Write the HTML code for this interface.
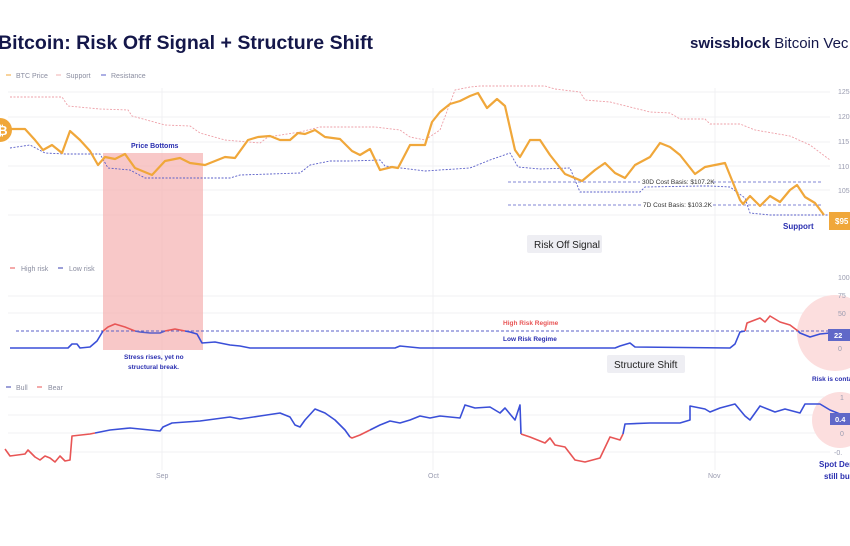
<!DOCTYPE html>
<html><head><meta charset="utf-8"><style>
body{margin:0;background:#fff;width:850px;height:541px;overflow:hidden;font-family:"Liberation Sans",sans-serif}
</style></head><body>
<svg width="850" height="541" viewBox="0 0 850 541" xmlns="http://www.w3.org/2000/svg" font-family="Liberation Sans, sans-serif">
<rect width="850" height="541" fill="#fff"/>
<text x="-2" y="49" font-size="19" font-weight="bold" fill="#14174a" textLength="375" lengthAdjust="spacingAndGlyphs">Bitcoin: Risk Off Signal + Structure Shift</text>
<text x="690" y="48" font-size="15" fill="#14174a"><tspan font-weight="bold">swissblock</tspan> Bitcoin Vec</text>
<!-- grids -->
<g stroke="#f0f0f3" stroke-width="1">
<line x1="162" y1="88" x2="162" y2="470"/><line x1="433" y1="88" x2="433" y2="470"/><line x1="715" y1="88" x2="715" y2="470"/>
<line x1="8" y1="92" x2="830" y2="92"/><line x1="8" y1="117" x2="830" y2="117"/><line x1="8" y1="142" x2="830" y2="142"/><line x1="8" y1="166" x2="830" y2="166"/><line x1="8" y1="190" x2="830" y2="190"/><line x1="8" y1="215" x2="830" y2="215"/>
<line x1="8" y1="296" x2="830" y2="296"/><line x1="8" y1="313" x2="830" y2="313"/>
<line x1="8" y1="397" x2="830" y2="397"/><line x1="8" y1="415" x2="830" y2="415"/><line x1="8" y1="433" x2="830" y2="433"/><line x1="8" y1="452" x2="830" y2="452"/>
</g>
<!-- legends -->
<g font-size="7" fill="#8a8da0">
<line x1="6" y1="75" x2="11" y2="75" stroke="#f0a73a"/><text x="16" y="78">BTC Price</text>
<line x1="56" y1="75" x2="61" y2="75" stroke="#f2b0b0"/><text x="66" y="78">Support</text>
<line x1="101" y1="75" x2="106" y2="75" stroke="#5a5fc8"/><text x="111" y="78">Resistance</text>
<line x1="10" y1="268" x2="15" y2="268" stroke="#e85555"/><text x="21" y="271">High risk</text>
<line x1="58" y1="268" x2="63" y2="268" stroke="#3a3fb0"/><text x="69" y="271">Low risk</text>
<line x1="6" y1="387" x2="11" y2="387" stroke="#3a3fb0"/><text x="16" y="390">Bull</text>
<line x1="37" y1="387" x2="42" y2="387" stroke="#e85555"/><text x="48" y="390">Bear</text>
</g>
<!-- shaded -->
<rect x="103" y="153" width="100" height="197" fill="#f5b5b5" opacity="0.75"/>
<!-- cost basis lines -->
<line x1="508" y1="182" x2="823" y2="182" stroke="#5a5fc8" stroke-dasharray="3,2" stroke-width="0.8"/>
<line x1="508" y1="205" x2="823" y2="205" stroke="#5a5fc8" stroke-dasharray="3,2" stroke-width="0.8"/>
<rect x="640" y="177" width="72" height="9" fill="#fff"/><text x="642" y="184" font-size="6.5" fill="#333">30D Cost Basis: $107.2K</text>
<rect x="642" y="200" width="70" height="9" fill="#fff"/><text x="643" y="207" font-size="6.5" fill="#333">7D Cost Basis: $103.2K</text>
<!-- support -->
<polyline fill="none" stroke="#eea0a8" stroke-width="0.9" stroke-dasharray="2,1.5" points="10,97 62,97 68,106 100,109 128,110 132,116 165,125 190,126 200,133 225,140 260,143 268,137 300,132 320,127 375,127 400,130 410,137 425,140 440,130 455,90 470,87 480,86 545,86 555,89 580,92 585,100 610,102 650,112 670,113 680,119 705,119 710,124 740,124 755,130 790,136 810,145 830,160"/>
<!-- resistance -->
<polyline fill="none" stroke="#5a5fc8" stroke-width="0.9" stroke-dasharray="2,1.5" points="10,148 30,145 45,153 65,154 100,154 108,168 130,170 145,178 230,178 240,175 300,173 310,165 330,161 350,161 380,160 385,166 425,171 470,168 490,160 510,153 518,167 540,169 570,168 580,192 640,192 645,187 700,186 710,186 730,187 745,198 750,213 770,215 830,215"/>
<!-- price -->
<polyline fill="none" stroke="#f0a73a" stroke-width="2.2" stroke-linejoin="round" points="10,129 25,129 35,140 43,150 52,145 62,153 70,131 80,140 90,151 98,165 105,157 115,159 125,154 135,168 152,175 165,161 180,158 190,163 205,165 225,157 235,158 248,140 258,137 270,136 280,140 290,140 298,133 305,134 315,130 325,137 340,139 352,151 360,155 370,149 380,170 392,167 398,168 410,145 425,145 432,122 440,112 450,104 460,101 470,96 478,93 487,108 497,99 505,106 515,150 520,157 530,140 540,140 550,155 565,174 582,181 595,170 605,163 615,173 625,178 635,165 650,157 660,143 670,147 680,155 695,174 705,167 725,163 740,200 743,204 750,196 760,206 770,196 780,202 790,190 797,185 805,197 815,203 824,215"/>
<circle cx="0" cy="130" r="12" fill="#f0a73a"/><text x="-3" y="135" font-size="13" font-weight="bold" fill="#fff">₿</text>
<text x="131" y="148" font-size="7" font-weight="bold" fill="#2a2fb0">Price Bottoms</text>
<text x="783" y="229" font-size="8" font-weight="bold" fill="#2a2fb0">Support</text>
<rect x="829" y="212" width="22" height="18" fill="#f0a73a"/><text x="835" y="224" font-size="8" font-weight="bold" fill="#fff">$95</text>
<g font-size="7" fill="#9a9cb0"><text x="838" y="94">125</text><text x="838" y="119">120</text><text x="838" y="144">115</text><text x="838" y="169">110</text><text x="838" y="193">105</text></g>
<rect x="527" y="235" width="75" height="18" fill="#eeeef3" rx="2"/><text x="534" y="248" font-size="10" fill="#222">Risk Off Signal</text>
<!-- risk panel -->
<circle cx="835" cy="333" r="38" fill="#fcdede"/>
<circle cx="840" cy="420" r="28" fill="#fcdede"/>
<line x1="16" y1="331" x2="830" y2="331" stroke="#5a5fc8" stroke-dasharray="3,2" stroke-width="0.9"/>
<polyline fill="none" stroke="#3a4fd8" stroke-width="1.6" stroke-linejoin="round" points="10,348 68,348 72,344 77,344 80,348 90,347 97,341 103,331"/>
<polyline fill="none" stroke="#e85555" stroke-width="1.6" stroke-linejoin="round" points="103,331 108,327 115,324 125,327 135,331"/>
<polyline fill="none" stroke="#5a5fc8" stroke-width="1.6" stroke-linejoin="round" points="135,331 140,332 150,333 160,333 165,331"/>
<polyline fill="none" stroke="#e85555" stroke-width="1.6" stroke-linejoin="round" points="165,331 175,329 185,331"/>
<polyline fill="none" stroke="#3a4fd8" stroke-width="1.6" stroke-linejoin="round" points="185,331 190,332 197,334 202,343 215,342 230,345 240,346 250,348 395,348 400,346 410,347 420,348 615,348 620,346 630,343 635,347 730,348 735,344 740,332 745,331"/>
<polyline fill="none" stroke="#e85555" stroke-width="1.6" stroke-linejoin="round" points="745,331 747,323 760,318 765,322 770,316 780,322 790,325 798,331"/>
<polyline fill="none" stroke="#3a4fd8" stroke-width="1.6" stroke-linejoin="round" points="798,331 800,333 810,337 820,334 830,333"/>
<text x="503" y="325" font-size="6.5" font-weight="bold" fill="#e85555">High Risk Regime</text>
<text x="503" y="341" font-size="6.5" font-weight="bold" fill="#2a2fb0">Low Risk Regime</text>
<text x="124" y="359" font-size="6.5" font-weight="bold" fill="#2a2fb0">Stress rises, yet no</text>
<text x="128" y="369" font-size="6.5" font-weight="bold" fill="#2a2fb0">structural break.</text>
<g font-size="7" fill="#9a9cb0"><text x="838" y="280">100</text><text x="838" y="298">75</text><text x="838" y="316">50</text><text x="838" y="351">0</text></g>
<rect x="828" y="329" width="22" height="12" fill="#6068c8"/><text x="834" y="338" font-size="7.5" font-weight="bold" fill="#fff">22</text>
<text x="812" y="381" font-size="6.5" font-weight="bold" fill="#2a2fb0">Risk is conta</text>
<rect x="607" y="355" width="78" height="18" fill="#eeeef3" rx="2"/><text x="614" y="368" font-size="10" fill="#222">Structure Shift</text>
<!-- bull/bear -->
<polyline fill="none" stroke="#e85555" stroke-width="1.6" stroke-linejoin="round" points="5,449 10,456 25,454 28,450 35,457 40,460 45,456 50,458 55,462 60,456 65,461 70,460 72,436 90,434 95,433"/>
<polyline fill="none" stroke="#3a4fd8" stroke-width="1.6" stroke-linejoin="round" points="95,433 100,432 110,430 130,428 150,430 160,431 163,427 172,423 200,421 230,417 240,419 260,416 280,413 290,417 295,425 300,427 305,420 315,409 325,413 335,420 345,430 350,437"/>
<polyline fill="none" stroke="#e85555" stroke-width="1.6" stroke-linejoin="round" points="350,437 352,438 360,435 370,430"/>
<polyline fill="none" stroke="#3a4fd8" stroke-width="1.6" stroke-linejoin="round" points="370,430 380,425 390,421 400,423 410,420 420,416 430,418 440,416 460,418 465,405 475,408 490,407 500,413 505,408 515,420 520,405 521,434"/>
<polyline fill="none" stroke="#e85555" stroke-width="1.6" stroke-linejoin="round" points="521,434 530,437 545,443 550,438 555,445 565,447 575,460 585,462 600,458 610,437 620,440 623,434"/>
<polyline fill="none" stroke="#3a4fd8" stroke-width="1.6" stroke-linejoin="round" points="623,434 625,424 650,423 680,423 690,420 690,406 705,409 710,412 720,408 735,404 740,410 745,416 750,420 760,406 770,410 775,412 785,409 800,413 805,404 820,404 830,410 840,414"/>
<g font-size="7" fill="#9a9cb0"><text x="840" y="400">1</text><text x="840" y="436">0</text><text x="834" y="455">-0.</text>
<text x="156" y="478">Sep</text><text x="428" y="478">Oct</text><text x="708" y="478">Nov</text></g>
<rect x="830" y="413" width="20" height="12" fill="#6068c8"/><text x="835" y="422" font-size="7.5" font-weight="bold" fill="#fff">0.4</text>
<text x="819" y="467" font-size="8" font-weight="bold" fill="#2a2fb0">Spot Dem</text>
<text x="824" y="479" font-size="8" font-weight="bold" fill="#2a2fb0">still bu</text>
</svg>
</body></html>
